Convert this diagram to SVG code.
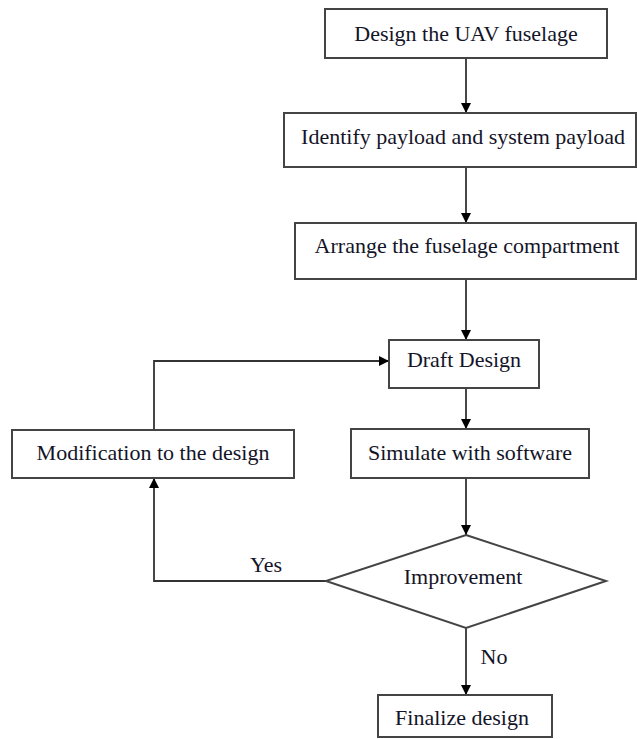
<svg xmlns="http://www.w3.org/2000/svg" width="637" height="739" viewBox="0 0 637 739">
<style>
.box{fill:#fff;stroke:#444;stroke-width:2}
.t{font-family:"Liberation Serif","Times New Roman",serif;font-size:22px;fill:#141428;text-anchor:middle}
.c{fill:none;stroke:#333;stroke-width:1.8}
</style>
<defs>
<marker id="ah" markerUnits="userSpaceOnUse" markerWidth="10" markerHeight="10" refX="10" refY="5" orient="auto">
<path d="M0,0 L10,5 L0,10 z" fill="#000"/>
</marker>
</defs>
<rect width="637" height="739" fill="#fff"/>
<g id="connectors">
<path class="c" d="M466,58 V113" marker-end="url(#ah)"/>
<path class="c" d="M466,167 V223" marker-end="url(#ah)"/>
<path class="c" d="M466,279 V340" marker-end="url(#ah)"/>
<path class="c" d="M466,388 V429" marker-end="url(#ah)"/>
<path class="c" d="M466,478 V535" marker-end="url(#ah)"/>
<path class="c" d="M466,628 V695" marker-end="url(#ah)"/>
<path class="c" d="M326,581 H154 V478" marker-end="url(#ah)"/>
<path class="c" d="M154,430 V361 H389" marker-end="url(#ah)"/>
<text class="t" x="266" y="572">Yes</text>
<text class="t" x="494" y="664">No</text>
</g>
<g id="n1"><rect class="box" x="325" y="9" width="282" height="49"/><text class="t" x="466" y="41">Design the UAV fuselage</text></g>
<g id="n2"><rect class="box" x="284" y="113" width="352" height="54"/><text class="t" x="463" y="144">Identify payload and system payload</text></g>
<g id="n3"><rect class="box" x="295" y="223" width="341" height="56"/><text class="t" x="467" y="253">Arrange the fuselage compartment</text></g>
<g id="n4"><rect class="box" x="389" y="340" width="150" height="48"/><text class="t" x="464" y="367">Draft Design</text></g>
<g id="n5"><rect class="box" x="351" y="429" width="238" height="49"/><text class="t" x="470" y="460">Simulate with software</text></g>
<g id="n6"><rect class="box" x="12" y="430" width="282" height="48"/><text class="t" x="153" y="460">Modification to the design</text></g>
<g id="n7"><polygon class="box" points="466,535 606,581 466,628 326,581"/><text class="t" x="463" y="584">Improvement</text></g>
<g id="n8"><rect class="box" x="378" y="695" width="174" height="42"/><text class="t" x="462" y="725">Finalize design</text></g>
</svg>
